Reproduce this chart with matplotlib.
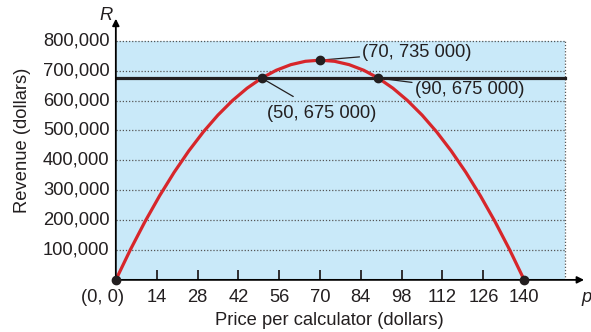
import matplotlib.pyplot as plt
from matplotlib.patches import Rectangle

# revenue, every $5 of price
price = [0, 5, 10, 15, 20, 25, 30, 35, 40, 45, 50, 55, 60, 65, 70,
         75, 80, 85, 90, 95, 100, 105, 110, 115, 120, 125, 130, 135, 140]
revenue = [0, 101250, 195000, 281250, 360000, 431250, 495000, 551250, 600000,
           641250, 675000, 701250, 720000, 731250, 735000, 731250, 720000,
           701250, 675000, 641250, 600000, 551250, 495000, 431250, 360000,
           281250, 195000, 101250, 0]

x_ticks = [14, 28, 42, 56, 70, 84, 98, 112, 126, 140]
y_ticks = [100000, 200000, 300000, 400000, 500000, 600000, 700000, 800000]
y_labels = ['100,000', '200,000', '300,000', '400,000', '500,000', '600,000',
            '700,000', '800,000']
level = 675000
key_p = [0, 50, 70, 90, 140]
key_r = [0, 675000, 735000, 675000, 0]

plt.rcParams['font.family'] = ['Liberation Sans Narrow', 'Liberation Sans', 'DejaVu Sans']
plt.rcParams['font.size'] = 13.2
txt = '#231f20'

fig = plt.figure(figsize=(5.91, 3.32), dpi=100)
ax = fig.add_axes([0.196, 0.157, 0.797, 0.795])
ax.set_xlim(0, 161.5)
ax.set_ylim(0, 883000)
for s in ax.spines.values():
    s.set_visible(False)

ax.add_patch(Rectangle((0, 0), 154, 800000, facecolor='#c9e9f9', edgecolor='none', zorder=0))
for y in y_ticks:
    ax.plot([0, 154], [y, y], color='#555555', lw=0.9, ls=(0, (1, 1.5)), zorder=1)
ax.plot([154, 154], [0, 800000], color='#555555', lw=0.9, ls=(0, (1, 1.5)), zorder=1)

# axes with arrows
ax.annotate('', xy=(161.5, 0), xytext=(0, 0),
            arrowprops=dict(arrowstyle='-|>', color='black', lw=1.3, mutation_scale=10), zorder=5)
ax.annotate('', xy=(0, 883000), xytext=(0, 0),
            arrowprops=dict(arrowstyle='-|>', color='black', lw=1.3, mutation_scale=10), zorder=5)

ax.set_xticks(x_ticks[:-1])
ax.set_xticklabels([])
ax.tick_params(axis='x', direction='in', length=7, width=1.3, color='#231f20')
ax.set_yticks([])
for p in x_ticks:
    ax.text(p, -30000, str(p), ha='center', va='top', color=txt)
ax.text(-4.5, -30000, '(0, 0)', ha='center', va='top', color=txt)
for y, lab in zip(y_ticks, y_labels):
    ax.text(-2.2, y, lab, ha='right', va='center', color=txt)

ax.text(161.5, -30000, 'p', ha='center', va='top', style='italic', color=txt)
ax.text(-3.5, 883000, 'R', ha='center', va='center', style='italic', color=txt)
ax.set_xlabel('Price per calculator (dollars)', color=txt)
ax.set_ylabel('Revenue (dollars)', color=txt)
ax.xaxis.set_label_coords(0.454, -0.12)
ax.yaxis.set_label_coords(-0.18, 0.53)

ax.axhline(level, xmin=0, xmax=154 / 161.5, color='#231f20', lw=2.3, zorder=3)
ax.plot(price, revenue, color='#d7262b', lw=2.3, zorder=4, solid_capstyle='round')
ax.plot(key_p, key_r, 'o', color='#231f20', ms=6, zorder=6, clip_on=False)

ax.annotate('(70, 735 000)', xy=(70, 735000), xytext=(84.5, 762000), ha='left', va='center',
            color=txt, arrowprops=dict(arrowstyle='-', color=txt, lw=0.9, shrinkA=0, shrinkB=3))
ax.annotate('(50, 675 000)', xy=(50, 675000), xytext=(52, 557000), ha='left', va='center',
            color=txt, arrowprops=dict(arrowstyle='-', color=txt, lw=0.9, shrinkA=8, shrinkB=3))
ax.annotate('(90, 675 000)', xy=(90, 675000), xytext=(102.5, 636000), ha='left', va='center',
            color=txt, arrowprops=dict(arrowstyle='-', color=txt, lw=0.9, shrinkA=0, shrinkB=3))

fig.savefig('out.png', dpi=100)
